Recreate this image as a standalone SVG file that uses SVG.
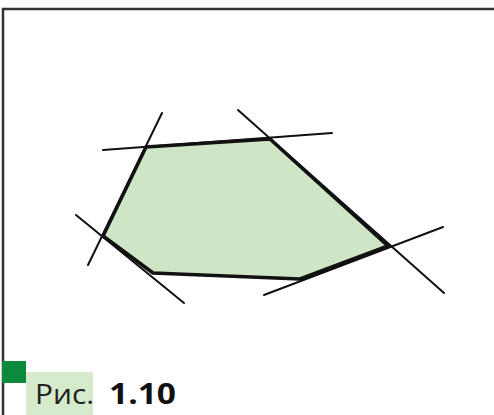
<svg xmlns="http://www.w3.org/2000/svg" width="494" height="415" viewBox="0 0 494 415">
<style>
.thin{stroke:#111;stroke-width:2;fill:none;stroke-linecap:round}
.edge{stroke:#111;stroke-width:3.6;fill:none;stroke-linejoin:round}
</style>
<rect width="494" height="415" fill="#fff"/>
<path d="M3,415 V9 H494" stroke="#333" stroke-width="2.5" fill="none"/>
<g id="polygon">
<polygon points="146,147 270,139 388,246 300,279 153,273 103,236" fill="#cfe6c6" stroke="none"/>
</g>
<g id="connectors">
<line class="thin" x1="103" y1="150" x2="332" y2="133"/>
<line class="thin" x1="162" y1="113" x2="88" y2="265"/>
<line class="thin" x1="238" y1="110" x2="444" y2="293"/>
<line class="thin" x1="443" y1="227" x2="264" y2="295"/>
<line class="thin" x1="76" y1="215" x2="184" y2="303"/>
<polygon class="edge" points="146,147 270,139 388,246 300,279 153,273 103,236"/>
</g>
<g id="caption">
<rect x="2" y="361" width="24" height="22" fill="#0b8a3c"/>
<rect x="26" y="372" width="67" height="43" fill="#d5ebcc"/>
<text x="35" y="404" font-family="Open Sans, Noto Sans, sans-serif" font-size="28" fill="#222" textLength="59" lengthAdjust="spacingAndGlyphs">Рис.</text>
<text x="109" y="404" font-family="Open Sans, Noto Sans, sans-serif" font-size="28" font-weight="bold" fill="#111" textLength="67" lengthAdjust="spacingAndGlyphs">1.10</text>
</g>
</svg>
